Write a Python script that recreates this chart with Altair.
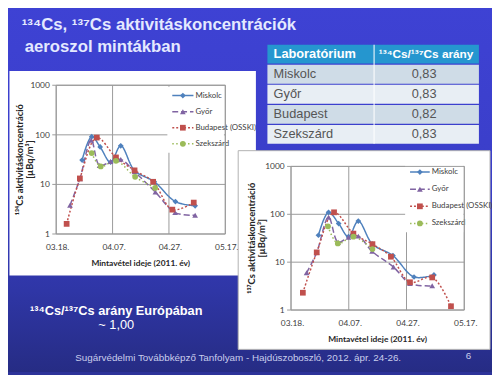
import altair as alt
import pandas as pd

# ---------------- data ----------------
series = ["Miskolc", "Győr", "Budapest (OSSKI)", "Szekszárd"]
series_colors = ["#4F81BD", "#8064A2", "#C0504D", "#9BBB59"]
series_shapes = ["diamond", "triangle-up", "square", "circle"]
series_dashes = [[1, 0], [6, 3], [2, 2], [1.5, 2.5]]

day_ticks = [0, 20, 40, 60]            # days after 2011-03-18
day_labels = ["03.18.", "04.07.", "04.27.", "05.17."]
conc_ticks = [1, 10, 100, 1000]
conc_labels = ["1", "10", "100", "1000"]

# 134Cs (days after 03.18., µBq/m3)
miskolc_134_day = [9.2, 12.6, 15.6, 19.3, 22.9, 27.8, 34.8, 42.3, 49.3]
miskolc_134 = [31, 92, 57, 28, 60, 19, 11.3, 4.5, 3.7]
gyor_134_day = [4.9, 8.4, 12.4, 15.4, 19.3, 22.9, 27.8, 35.2, 42.2, 49.3]
gyor_134 = [3.8, 13, 78, 24, 29, 32, 18, 7.0, 2.7, 2.4]
budapest_134_day = [3.7, 8.4, 14.4, 21.2, 27.8, 34.4, 41.2, 48.8]
budapest_134 = [1.6, 13.2, 88, 35, 19.2, 11.3, 3.1, 4.3]
szekszard_134_day = [12.6, 15.8, 21.2, 28.0, 35.1]
szekszard_134 = [43, 23, 30, 14.2, 8.5]

# 137Cs
miskolc_137_day = [9.5, 13.0, 16.5, 19.9, 23.3, 28.2, 35.3, 42.6, 49.5]
miskolc_137 = [36.5, 110, 64, 34, 72, 23.8, 13.7, 4.9, 5.4]
gyor_137_day = [5.4, 8.9, 13.0, 16.3, 19.9, 23.3, 28.1, 35.5, 41.2, 48.9]
gyor_137 = [6.0, 16, 87, 26, 33, 35, 16.8, 7.9, 3.6, 3.2]
budapest_137_day = [4.1, 8.9, 14.9, 21.6, 28.2, 34.6, 41.2, 48.9, 55.4]
budapest_137 = [2.3, 16, 110, 39.5, 23.8, 13, 3.8, 4.8, 1.2]
szekszard_137_day = [12.8, 16.2, 21.6, 28.2]
szekszard_137 = [56, 24.6, 34, 18.8]

table_labs = ["Miskolc", "Győr", "Budapest", "Szekszárd"]
table_ratios = ["0,83", "0,83", "0,82", "0,83"]

# ---------------- helpers ----------------
OFF = 8
W, H = 492, 367


def X(v):
    return v - OFF


def Y(v):
    return v - OFF


FONT_CH = "Lato"
FONT_SL = "Liberation Sans"
GRID = "#9a9a9a"


def one():
    return pd.DataFrame({"k": [0]})


def rect(x0, y0, x1, y1, **kw):
    return alt.Chart(one()).mark_rect(**kw).encode(
        x=alt.value(X(x0)), x2=alt.value(X(x1)), y=alt.value(Y(y0)), y2=alt.value(Y(y1)))


def label(txt, x, y, **kw):
    return alt.Chart(one()).mark_text(text=txt, **kw).encode(x=alt.value(X(x)), y=alt.value(Y(y)))


def frame(pairs):
    rows = []
    for name, (days, vals) in zip(series, pairs):
        for d, v in zip(days, vals):
            rows.append({"series": name, "day": d, "value": v})
    return pd.DataFrame(rows)


cscale = alt.Scale(domain=series, range=series_colors)
shscale = alt.Scale(domain=series, range=series_shapes)
dscale = alt.Scale(domain=series, range=series_dashes)


def panel(df, px0, px1, py0, py1, tick_y, ytitle, yt_x, xt_y):
    xs = alt.Scale(domain=[0, 60], range=[X(px0), X(px1)], nice=False, zero=False)
    ys = alt.Scale(type="log", domain=[1, 1000], range=[Y(py1), Y(py0)], nice=False)
    hg = alt.Chart(pd.DataFrame({"v": conc_ticks, "lab": conc_labels}))
    vg = alt.Chart(pd.DataFrame({"d": day_ticks, "lab": day_labels}))
    yenc = alt.Y("v:Q", scale=ys, axis=None)
    xenc = alt.X("d:Q", scale=xs, axis=None)
    base = alt.Chart(df)
    layers = [
        hg.mark_rule(color=GRID, strokeWidth=1).encode(y=yenc, x=alt.value(X(px0 - 4)), x2=alt.value(X(px1))),
        vg.mark_rule(color=GRID, strokeWidth=1).encode(x=xenc, y=alt.value(Y(py0)), y2=alt.value(Y(py1))),
        hg.mark_text(align="right", baseline="middle", font=FONT_CH, fontSize=8.5, color="#404040").encode(
            y=yenc, x=alt.value(X(px0 - 6.5)), text="lab:N"),
        vg.mark_text(align="center", baseline="middle", font=FONT_CH, fontSize=8.5, color="#404040", dx=1.5).encode(
            x=xenc, y=alt.value(Y(tick_y)), text="lab:N"),
        base.mark_line(interpolate="catmull-rom", strokeWidth=1.5).encode(
            x=alt.X("day:Q", scale=xs, axis=None),
            y=alt.Y("value:Q", scale=ys, axis=None),
            color=alt.Color("series:N", scale=cscale, legend=None),
            strokeDash=alt.StrokeDash("series:N", scale=dscale, legend=None),
            order="day:Q"),
        base.mark_point(filled=True, opacity=1, size=34).encode(
            x=alt.X("day:Q", scale=xs, axis=None),
            y=alt.Y("value:Q", scale=ys, axis=None),
            color=alt.Color("series:N", scale=cscale, legend=None),
            shape=alt.Shape("series:N", scale=shscale, legend=None)),
        label(ytitle[0], yt_x, (py0 + py1) / 2, angle=270, font=FONT_CH, fontSize=9.5, fontWeight="bold",
              color="#262626", align="center", baseline="middle"),
        label(ytitle[1], yt_x + 10, (py0 + py1) / 2, angle=270, font=FONT_CH, fontSize=9.5, fontWeight="bold",
              color="#262626", align="center", baseline="middle"),
        label("Mintavétel ideje (2011. év)", (px0 + px1) / 2, xt_y, font=FONT_CH, fontSize=8.5,
              fontWeight="bold", color="#262626", align="center", baseline="middle"),
    ]
    return alt.layer(*layers)


def legend(lx0, lx1, ly0, ly1, bx1):
    ls = alt.Scale(type="point", domain=series, range=[Y(ly0), Y(ly1)], padding=0)
    lg = alt.Chart(pd.DataFrame({"series": series}))
    yl = alt.Y("series:N", scale=ls, axis=None)
    return alt.layer(
        rect(lx0 - 5, ly0 - 9, bx1, ly1 + 9, fill="white"),
        lg.mark_rule(strokeWidth=1.5).encode(
            y=yl, x=alt.value(X(lx0)), x2=alt.value(X(lx1)),
            color=alt.Color("series:N", scale=cscale, legend=None),
            strokeDash=alt.StrokeDash("series:N", scale=dscale, legend=None)),
        lg.mark_point(filled=True, opacity=1, size=34).encode(
            y=yl, x=alt.value(X((lx0 + lx1) / 2)),
            color=alt.Color("series:N", scale=cscale, legend=None),
            shape=alt.Shape("series:N", scale=shscale, legend=None)),
        lg.mark_text(align="left", baseline="middle", font=FONT_CH, fontSize=8, color="#404040").encode(
            y=yl, x=alt.value(X(lx1 + 2)), text="series:N"),
    )


df134 = frame([(miskolc_134_day, miskolc_134), (gyor_134_day, gyor_134),
               (budapest_134_day, budapest_134), (szekszard_134_day, szekszard_134)])
df137 = frame([(miskolc_137_day, miskolc_137), (gyor_137_day, gyor_137),
               (budapest_137_day, budapest_137), (szekszard_137_day, szekszard_137)])

p1 = panel(df134, 57, 228.9, 83.5, 234.7, 248, ["¹³⁴Cs aktivitáskoncentráció", "[µBq/m³]"], 20.5, 264)
l1 = legend(175, 196.5, 94, 143, 227.5)
p2 = panel(df137, 295.7, 471.8, 166, 312, 325, ["¹³⁷Cs aktivitáskoncentráció", "[µBq/m³]"], 256, 341.7)
l2 = legend(416.7, 436.7, 171.7, 224, 471)


def border(x0, x1, y0, y1):
    return rect(x0, y0, x1, y1, fill=None, stroke=GRID, strokeWidth=1)


# table
tbl = pd.DataFrame({
    "row": list(range(5)),
    "lab": ["Laboratórium"] + table_labs,
    "ratio": ["¹³⁴Cs/¹³⁷Cs arány"] + table_ratios,
    "kind": ["h", "a", "b", "a", "b"],
})
band = alt.Scale(type="band", domain=[0, 1, 2, 3, 4], range=[Y(42.3), Y(143)], paddingInner=0.06, paddingOuter=0)
ty = alt.Y("row:O", scale=band, axis=None, bandPosition=0.5)
ty_r = alt.Y("row:O", scale=band, axis=None)
tc = alt.Chart(tbl)
head = alt.Chart(tbl[tbl["row"] == 0])
body = alt.Chart(tbl[tbl["row"] > 0])
table = alt.layer(
    tc.mark_rect().encode(
        y=ty_r, x=alt.value(X(271.7)), x2=alt.value(X(486.7)),
        fill=alt.Fill("kind:N", scale=alt.Scale(domain=["h", "a", "b"], range=["#2596cf", "#cfdce7", "#e8eef4"]),
                      legend=None)),
    rect(379.5, 42.3, 380.8, 143, fill="white", opacity=0.8),
    head.mark_text(align="left", baseline="middle", font=FONT_SL, fontSize=13, fontWeight="bold", color="white").encode(
        y=ty, x=alt.value(X(278)), text="lab:N"),
    head.mark_text(align="center", baseline="middle", font=FONT_SL, fontSize=12, fontWeight="bold", color="white").encode(
        y=ty, x=alt.value(X(433)), text="ratio:N"),
    body.mark_text(align="left", baseline="middle", font=FONT_SL, fontSize=13, color="#555555").encode(
        y=ty, x=alt.value(X(278)), text="lab:N"),
    body.mark_text(align="center", baseline="middle", font=FONT_SL, fontSize=13, color="#555555").encode(
        y=ty, x=alt.value(X(431)), text="ratio:N"),
)

bg = rect(0, 0, W + OFF, H + OFF, fill=alt.Gradient(
    gradient="linear", x1=0, x2=0, y1=0, y2=1,
    stops=[alt.GradientStop(color="#3e42d4", offset=0),
           alt.GradientStop(color="#3a3ec8", offset=0.5),
           alt.GradientStop(color="#2f36a6", offset=0.78),
           alt.GradientStop(color="#262c84", offset=1)]))

title_col = "#e4e9ff"
chart = alt.layer(
    bg,
    label("¹³⁴Cs, ¹³⁷Cs aktivitáskoncentrációk", 22, 22, font=FONT_SL, fontSize=17, fontWeight="bold",
          color=title_col, align="left", baseline="middle"),
    label("aeroszol mintákban", 25, 45, font=FONT_SL, fontSize=17, fontWeight="bold",
          color=title_col, align="left", baseline="middle"),
    rect(9.5, 69, 260, 277, fill="white"),
    p1,
    l1,
    border(57, 228.9, 83.5, 234.7),
    rect(242, 150, 498, 352, fill="white", stroke="#b0b0b0", strokeWidth=1),
    p2,
    l2,
    border(295.7, 471.8, 166, 312),
    table,
    label("¹³⁴Cs/¹³⁷Cs arány Európában", 118, 313, font=FONT_SL, fontSize=13, fontWeight="bold",
          color="white", align="center", baseline="middle"),
    label("~ 1,00", 118, 327, font=FONT_SL, fontSize=13, color="white", align="center", baseline="middle"),
    label("Sugárvédelmi Továbbképző Tanfolyam - Hajdúszoboszló, 2012. ápr. 24-26.", 242, 361,
          font=FONT_SL, fontSize=10, color="#c9cdec", align="center", baseline="middle"),
    label("6", 476, 359, font=FONT_SL, fontSize=10, color="#c9cdec", align="center", baseline="middle"),
).resolve_scale(x="independent", y="independent").properties(
    width=W, height=H, padding=0, autosize=alt.AutoSizeParams(type="none"), background="#2d3399"
).configure_view(stroke=None)

chart.save("out.html", embed_options={"renderer": "svg", "actions": False})
